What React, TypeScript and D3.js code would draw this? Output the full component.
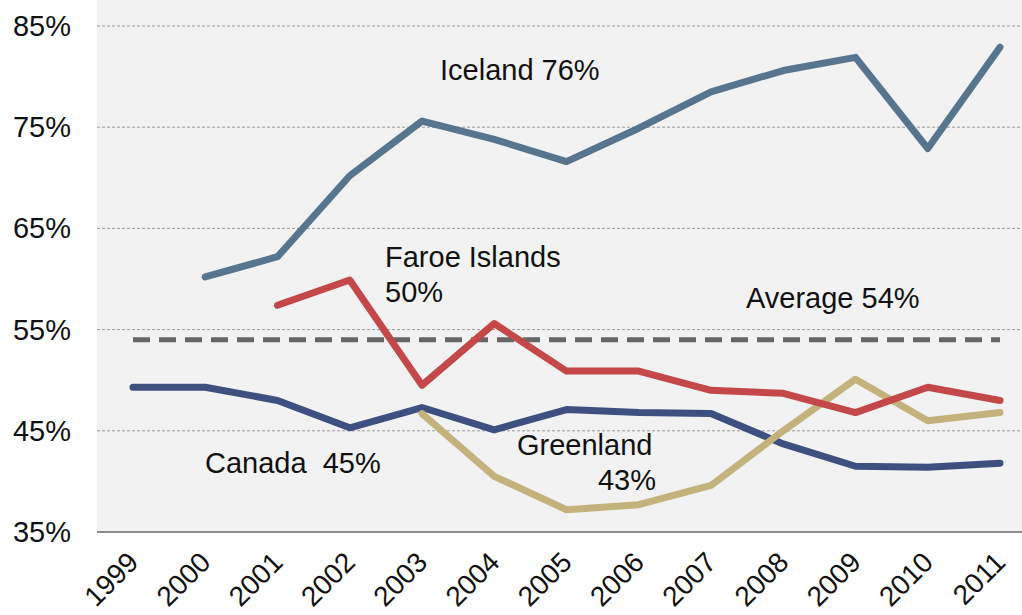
import { useEffect, useRef } from 'react';
import * as d3 from 'd3';

const years = ['1999', '2000', '2001', '2002', '2003', '2004', '2005', '2006', '2007', '2008', '2009', '2010', '2011'];
const yTicks = [35, 45, 55, 65, 75, 85];

// null = no data for that year
const iceland = [null, 60.2, 62.2, 70.2, 75.6, 73.8, 71.6, 74.9, 78.5, 80.6, 81.9, 72.9, 82.9];
const faroe = [null, null, 57.4, 59.9, 49.5, 55.6, 50.9, 50.9, 49.0, 48.7, 46.8, 49.3, 48.0];
const greenland = [null, null, null, null, 46.7, 40.5, 37.2, 37.7, 39.6, 45.0, 50.1, 46.0, 46.8];
const canada = [49.3, 49.3, 48.0, 45.3, 47.3, 45.1, 47.1, 46.8, 46.7, 43.7, 41.5, 41.4, 41.8];
const average = 54;

const App = () => {
  const svgRef = useRef<SVGSVGElement>(null);

  useEffect(() => {
    if (!svgRef.current) return;
    const W = 1022;
    const H = 615;
    const left = 97;
    const top = 26;
    const bottom = 532;

    const svg = d3.select(svgRef.current);
    svg.selectAll('*').remove();
    svg.attr('width', W).attr('height', H);

    const x = d3.scalePoint<string>().domain(years).range([133, 1000]);
    const y = d3.scaleLinear().domain([35, 85]).range([bottom, top]);

    svg.append('rect')
      .attr('x', left).attr('y', 0)
      .attr('width', W - left).attr('height', bottom)
      .attr('fill', '#f2f2f2');

    // dashed gridlines
    svg.selectAll('line.grid')
      .data(yTicks.filter(t => t > 35))
      .enter()
      .append('line')
      .attr('class', 'grid')
      .attr('x1', left).attr('x2', W)
      .attr('y1', d => y(d)).attr('y2', d => y(d))
      .attr('stroke', '#9a9a9a')
      .attr('stroke-width', 1)
      .attr('stroke-dasharray', '3,2');

    // axis line
    svg.append('line')
      .attr('x1', left).attr('x2', W)
      .attr('y1', bottom).attr('y2', bottom)
      .attr('stroke', '#8c8c8c')
      .attr('stroke-width', 2);

    const font = 'Liberation Sans, Arial, sans-serif';

    svg.selectAll('text.ytick')
      .data(yTicks)
      .enter()
      .append('text')
      .attr('class', 'ytick')
      .attr('x', 71)
      .attr('y', d => y(d) + 10)
      .attr('text-anchor', 'end')
      .style('font-family', font)
      .style('font-size', '29px')
      .style('fill', '#111')
      .text(d => `${d}%`);

    svg.selectAll('text.xtick')
      .data(years)
      .enter()
      .append('text')
      .attr('class', 'xtick')
      .attr('text-anchor', 'end')
      .attr('transform', d => `translate(${(x(d) as number) + 7},${bottom + 32}) rotate(-45)`)
      .style('font-family', font)
      .style('font-size', '28px')
      .style('fill', '#111')
      .text(d => d);

    // average line
    svg.append('line')
      .attr('x1', x('1999') as number).attr('x2', x('2011') as number)
      .attr('y1', y(average)).attr('y2', y(average))
      .attr('stroke', '#666')
      .attr('stroke-width', 5)
      .attr('stroke-dasharray', '17,9');

    const line = d3.line<number | null>()
      .defined(d => d !== null)
      .x((_, i) => x(years[i]) as number)
      .y(d => y(d as number));

    const series = [
      { values: canada, color: '#3d5080' },
      { values: greenland, color: '#c4b27c' },
      { values: faroe, color: '#c4474a' },
      { values: iceland, color: '#587590' },
    ];

    svg.selectAll('path.series')
      .data(series)
      .enter()
      .append('path')
      .attr('class', 'series')
      .attr('d', d => line(d.values))
      .attr('fill', 'none')
      .attr('stroke', d => d.color)
      .attr('stroke-width', 7)
      .attr('stroke-linejoin', 'round')
      .attr('stroke-linecap', 'round');

    const labels = [
      { text: 'Iceland 76%', x: 440, y: 80, anchor: 'start' },
      { text: 'Faroe Islands', x: 385, y: 267, anchor: 'start' },
      { text: '50%', x: 385, y: 302, anchor: 'start' },
      { text: 'Average 54%', x: 746, y: 308, anchor: 'start' },
      { text: 'Canada  45%', x: 205, y: 473, anchor: 'start' },
      { text: 'Greenland', x: 517, y: 455, anchor: 'start' },
      { text: '43%', x: 656, y: 490, anchor: 'end' },
    ];

    svg.selectAll('text.label')
      .data(labels)
      .enter()
      .append('text')
      .attr('class', 'label')
      .attr('x', d => d.x)
      .attr('y', d => d.y)
      .attr('text-anchor', d => d.anchor)
      .style('font-family', font)
      .style('font-size', '29px')
      .style('fill', '#111')
      .style('white-space', 'pre')
      .text(d => d.text);
  }, []);

  return (
    <div style={{ position: 'absolute', left: 0, top: 0, background: '#fff' }}>
      <svg ref={svgRef} style={{ display: 'block' }}></svg>
    </div>
  );
};

export default App;
